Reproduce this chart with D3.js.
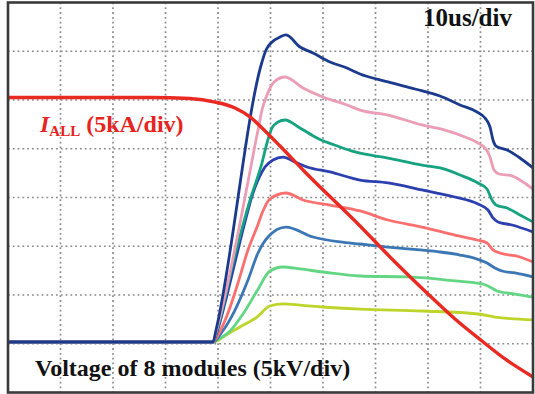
<!DOCTYPE html>
<html>
<head>
<meta charset="utf-8">
<script src="https://cdn.jsdelivr.net/npm/d3@7"></script>
<style>
  html, body { margin: 0; padding: 0; background: #fff; }
  svg { display: block; }
</style>
</head>
<body>
<svg id="scope" width="535" height="394"></svg>
<script>
// Oscilloscope capture: 10 us/div, module voltages 5 kV/div, total current 5 kA/div.
// Each trace is a list of [time (us), value] samples.

const timeTicks = [0, 10, 20, 30, 40, 50, 60, 70, 80, 90, 100];   // us
const voltTicks = [-5, 0, 5, 10, 15, 20, 25, 30, 35];              // kV

const traceNames = ["M8", "M7", "M6", "M5", "M4", "M3", "M2", "M1"];
const traceColors = ["#1b3a8e", "#ec9db6", "#15a382", "#2c3fae", "#fb6f6f", "#3b77b4", "#63d684", "#bdd52b"];

const vM8 = [[0,0.18],[39.05,0.18],[39.62,1.41],[48.38,28.9],[49.14,30.13],[50.29,30.95],[51.81,31.46],[52.95,31.67],[55.62,30.44],[58.10,29.82],[61.33,28.90],[64.57,28.28],[67.05,27.67],[72.38,26.85],[77.52,26.13],[82.29,25.41],[86.10,24.49],[89.33,23.77],[90.86,23.15],[91.81,22.23],[92.38,20.90],[92.95,20.28],[95.05,19.87],[97.52,19.05],[100,18.03]];
const vM7 = [[0,0.18],[39.05,0.18],[39.62,1.21],[47.62,21.92],[48.38,23.97],[49.33,25.51],[50.67,26.85],[52.76,27.36],[56.19,26.23],[60.0,25.31],[64.57,24.49],[67.05,23.97],[72.38,23.46],[78.86,22.44],[83.24,21.92],[87.05,21.21],[89.52,20.59],[91.05,19.97],[91.81,19.15],[92.57,17.82],[93.52,17.41],[96.0,17.21],[98.10,16.59],[100,15.87]];
const vM6 = [[0,0.18],[39.05,0.18],[39.81,1.41],[43.24,9.10],[46.10,14.74],[48.38,18.54],[49.33,20.59],[50.29,22.13],[51.43,22.74],[52.76,22.95],[55.62,22.13],[58.86,21.10],[63.24,20.18],[66.10,19.67],[72.38,19.05],[78.86,18.33],[82.29,18.03],[86.10,17.31],[89.52,16.49],[91.24,15.87],[92.19,14.74],[92.95,14.23],[95.05,13.92],[97.52,13.21],[100,12.49]];
const vM5 = [[0,0.18],[39.05,0.18],[39.62,0.90],[41.33,4.18],[43.24,8.38],[45.14,12.49],[46.48,15.15],[47.62,16.79],[48.95,18.13],[50.48,18.85],[52.38,19.15],[54.67,18.64],[56.95,18.13],[61.33,17.62],[67.05,16.79],[72.38,16.49],[78.86,15.77],[85.14,15.05],[89.52,14.33],[91.43,13.72],[92.38,12.90],[93.33,12.49],[96.0,12.18],[100,11.46]];
const vM4 = [[0,0.18],[39.05,0.18],[40.0,0.90],[41.90,3.15],[43.81,6.23],[45.71,9.62],[47.43,11.97],[48.57,13.62],[49.90,14.85],[52.95,15.46],[56.19,14.74],[61.33,14.23],[67.05,13.62],[72.38,12.69],[78.86,11.97],[85.14,11.15],[89.33,10.64],[91.24,10.33],[92.38,9.62],[93.71,9.31],[97.52,8.90],[100,8.38]];
const vM3 = [[0,0.18],[39.05,0.18],[40.76,1.21],[43.24,3.46],[45.71,6.54],[47.62,9.31],[49.52,10.95],[52.95,11.97],[58.10,10.95],[63.24,10.44],[67.05,10.23],[72.38,9.92],[78.48,9.62],[82.29,9.41],[86.10,9.10],[89.33,8.69],[91.24,8.28],[92.76,7.77],[94.10,7.46],[96.57,7.26],[100,6.85]];
const vM2 = [[0,0.18],[39.05,0.18],[39.81,0.38],[42.29,1.31],[44.76,3.05],[47.43,5.41],[49.90,7.46],[52.38,7.87],[55.62,7.67],[60.0,7.36],[67.05,6.95],[76.19,6.85],[85.14,6.44],[90.29,6.13],[91.81,5.82],[93.14,5.41],[96.57,5.10],[100,4.79]];
const vM1 = [[0,0.18],[39.05,0.18],[39.81,0.28],[40.95,0.69],[44.19,1.72],[47.43,2.74],[49.90,3.87],[52.38,4.08],[55.62,3.97],[60.0,3.77],[67.05,3.56],[78.86,3.36],[89.52,3.05],[92.76,2.74],[100,2.44]];

// Total current I_ALL in kA
const iAll = [[0,30.26],[27.05,30.26],[34.67,30.15],[39.43,29.79],[43.24,29.18],[46.10,28.26],[48.38,27.13],[51.81,25.28],[56.57,22.62],[67.05,17.08],[73.71,13.38],[80.0,10.10],[85.14,7.54],[90.29,5.28],[94.67,3.44],[100,1.59]];

const voltageTraces = [vM8, vM7, vM6, vM5, vM4, vM3, vM2, vM1];

// ---- layout ----
const frame = { left: 8, right: 533, top: 2.5, bottom: 392.5 };

const x = d3.scaleLinear().domain([0, 100]).range([frame.left, frame.right]);
const yV = d3.scaleLinear().domain([-5, 35]).range([frame.bottom, frame.top]);
const yI = d3.scaleLinear().domain([0, 40]).range([frame.bottom, frame.top]);

const svg = d3.select("#scope");

svg.append("defs").append("clipPath").attr("id", "plotClip")
  .append("rect")
  .attr("x", frame.left).attr("y", frame.top)
  .attr("width", frame.right - frame.left).attr("height", frame.bottom - frame.top);

// dotted graticule
const grid = svg.append("g").attr("class", "graticule");
grid.selectAll("line.v")
  .data(timeTicks.slice(1, -1))
  .join("line")
  .attr("class", "v")
  .attr("x1", d => x(d)).attr("x2", d => x(d))
  .attr("y1", frame.top).attr("y2", frame.bottom)
  .attr("stroke", "#8c8c8c").attr("stroke-width", 1.7)
  .attr("stroke-dasharray", "1.8,3");
grid.selectAll("line.h")
  .data(voltTicks.slice(1, -1))
  .join("line")
  .attr("class", "h")
  .attr("y1", d => yV(d)).attr("y2", d => yV(d))
  .attr("x1", frame.left).attr("x2", frame.right)
  .attr("stroke", "#8c8c8c").attr("stroke-width", 1.7)
  .attr("stroke-dasharray", "1.8,3");

// traces
const plot = svg.append("g").attr("clip-path", "url(#plotClip)");

const lineV = d3.line().x(d => x(d[0])).y(d => yV(d[1])).curve(d3.curveMonotoneX);
const lineI = d3.line().x(d => x(d[0])).y(d => yI(d[1])).curve(d3.curveMonotoneX);

// draw the lowest module first so the top-level traces sit above it
const order = d3.range(voltageTraces.length).reverse();
plot.selectAll("path.vtrace")
  .data(order)
  .join("path")
  .attr("class", "vtrace")
  .attr("d", k => lineV(voltageTraces[k]))
  .attr("fill", "none")
  .attr("stroke", k => traceColors[k])
  .attr("stroke-width", 2.8)
  .attr("stroke-linejoin", "round")
  .attr("stroke-linecap", "round");

plot.append("path")
  .attr("class", "itrace")
  .attr("d", lineI(iAll))
  .attr("fill", "none")
  .attr("stroke", "#ea2a22")
  .attr("stroke-width", 3.4)
  .attr("stroke-linejoin", "round");

// frame
svg.append("rect")
  .attr("x", frame.left).attr("y", frame.top)
  .attr("width", frame.right - frame.left).attr("height", frame.bottom - frame.top)
  .attr("fill", "none").attr("stroke", "#3a3a3a").attr("stroke-width", 2.6);

// annotations
const serif = "'Liberation Serif', 'Times New Roman', serif";

svg.append("text")
  .attr("x", 423).attr("y", 26)
  .attr("font-family", serif).attr("font-weight", "bold").attr("font-size", 25)
  .attr("fill", "#111")
  .text("10us/div");

svg.append("text")
  .attr("x", 35).attr("y", 376)
  .attr("font-family", serif).attr("font-weight", "bold").attr("font-size", 24)
  .attr("fill", "#111")
  .text("Voltage of 8 modules (5kV/div)");

const iLabel = svg.append("text")
  .attr("x", 40).attr("y", 132)
  .attr("font-family", serif).attr("font-weight", "bold").attr("font-size", 24)
  .attr("fill", "#e8231e");
iLabel.append("tspan").attr("font-style", "italic").text("I");
iLabel.append("tspan").attr("font-size", 15).attr("dy", 4).text("ALL");
iLabel.append("tspan").attr("dy", -4).text(" (5kA/div)");
</script>
</body>
</html>
